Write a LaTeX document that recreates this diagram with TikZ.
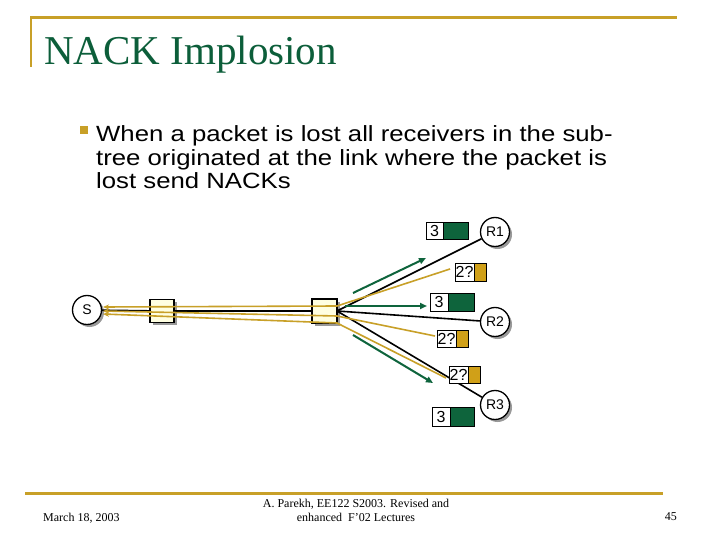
\documentclass[tikz,border=0pt]{standalone}
\usepackage{fontspec}
\setmainfont{Liberation Serif}
\setsansfont{Liberation Sans}
\newfontfamily\bodyfont[FakeStretch=1.17]{Liberation Sans}
\usetikzlibrary{arrows.meta,shadows}
\definecolor{gold}{RGB}{200,160,40}
\definecolor{pgold}{RGB}{208,160,24}
\definecolor{dgreen}{RGB}{14,100,60}
\definecolor{tgreen}{RGB}{12,94,58}
\definecolor{boxfill}{RGB}{255,255,225}
\tikzset{
  shad/.style={drop shadow={shadow xshift=2.5pt,shadow yshift=-2.5pt,fill=gray!80,opacity=1}},
  host/.style={circle,draw,line width=1.3pt,fill=white,minimum size=29pt,inner sep=0pt,font=\sffamily\fontsize{14}{14}\selectfont,shad},
  rbox/.style={rectangle,draw,line width=1.2pt,fill=boxfill,minimum width=24pt,minimum height=23pt,inner sep=0pt,shad},
  num/.style={rectangle,draw,line width=0.8pt,fill=white,inner sep=0pt,font=\sffamily\fontsize{16}{16}\selectfont},
  col/.style={rectangle,draw,line width=0.8pt,inner sep=0pt},
  blk/.style={draw=black,line width=1.6pt},
  gl/.style={draw=gold,line width=1.6pt},
  garr/.style={draw=dgreen,line width=2pt,-{Triangle[length=7pt,width=6pt]}},
  bodyline/.style={anchor=base west,inner sep=0pt,font=\bodyfont\fontsize{22}{24}\selectfont},
  foot/.style={inner sep=0pt,font=\fontsize{12}{12}\selectfont},
}
\begin{document}
\begin{tikzpicture}[x=1pt,y=-1pt]
\useasboundingbox[fill=white] (0,0) rectangle (720,540);
% header rules
\draw[gold,line width=3pt] (30,18) -- (677,18);
\draw[gold,line width=2.5pt] (31,18) -- (31,67);
\node[anchor=base west,inner sep=0pt,text=tgreen,font=\fontsize{41}{41}\selectfont] (title) at (44,65) {NACK Implosion};
% bullet
\node[fill=gold,minimum size=7.5pt,inner sep=0pt] (bul) at (84,130) {};
\node[bodyline] (l1) at (96,142) {When a packet is lost all receivers in the sub-};
\node[bodyline] (l2) at (96,165.5) {tree originated at the link where the packet is};
\node[bodyline] (l3) at (96,189) {lost send NACKs};
% footer
\draw[gold,line width=3pt] (25,493) -- (663,493);
\node[foot,anchor=base west] (date) at (43,521) {March 18, 2003};
\node[foot,anchor=base] (auth1) at (356,507) {A. Parekh, EE122 S2003. Revised and};
\node[foot,anchor=base] (auth2) at (356,521) {enhanced~ F'02 Lectures};
\node[foot,anchor=base east] (pg) at (677,520) {45};
% coordinates for gold paths
\coordinate (gs1) at (103,307);
\coordinate (gs2) at (103,311);
\coordinate (gs3) at (103,314);
\coordinate (gm1) at (337,306);
\coordinate (gm2) at (337,316);
\coordinate (gm3) at (337,323);
\coordinate (ge1) at (450,269);
\coordinate (ge2) at (435,336);
\coordinate (ge3) at (446,378);
% black links
\coordinate (hub) at (337,311);
\node[host] (S) at (87,310) {S};
\node[rbox] (b1) at (162,311) {};
\node[rbox,minimum width=25pt,minimum height=24pt] (b2) at (324.5,311) {};
\node[host] (R1) at (495,232) {R1};
\node[host] (R2) at (495,322) {R2};
\node[host] (R3) at (495,405) {R3};
\draw[blk] (S) -- (b1) -- (b2);
\draw[blk] (hub) -- (R1);
\draw[blk] (hub) -- (R2);
\draw[blk] (hub) -- (R3);
% gold NACK paths
\draw[gl,-{Stealth[length=6pt,width=5pt]}] (ge1) -- (gm1) -- (gs1);
\draw[gl,-{Stealth[length=6pt,width=5pt]}] (ge2) -- (gm2) -- (gs2);
\draw[gl,-{Stealth[length=6pt,width=5pt]}] (ge3) -- (gm3) -- (gs3);
% green arrows
\coordinate (a1s) at (353,293); \coordinate (a1e) at (426,258);
\coordinate (a2s) at (345,306); \coordinate (a2e) at (427,306);
\coordinate (a3s) at (353,335); \coordinate (a3e) at (433,383);
\draw[garr] (a1s) -- (a1e);
\draw[garr] (a2s) -- (a2e);
\draw[garr] (a3s) -- (a3e);
% packets
\node[num,minimum width=17pt,minimum height=17pt] (p1n) at (434.5,230.5) {3};
\node[col,fill=dgreen,minimum width=25pt,minimum height=17pt] (p1c) at (455.5,230.5) {};
\node[num,minimum width=19pt,minimum height=18pt] (q1n) at (464.5,272) {2?};
\node[col,fill=pgold,minimum width=12pt,minimum height=18pt] (q1c) at (480,272) {};
\node[num,minimum width=18pt,minimum height=18pt] (p2n) at (439,302) {3};
\node[col,fill=dgreen,minimum width=26pt,minimum height=18pt] (p2c) at (461,302) {};
\node[num,minimum width=19pt,minimum height=17pt] (q2n) at (446.5,338.5) {2?};
\node[col,fill=pgold,minimum width=12pt,minimum height=17pt] (q2c) at (462,338.5) {};
\node[num,minimum width=19pt,minimum height=17pt] (q3n) at (458.5,374.5) {2?};
\node[col,fill=pgold,minimum width=12pt,minimum height=17pt] (q3c) at (474,374.5) {};
\node[num,minimum width=18pt,minimum height=19pt] (p3n) at (441,416.5) {3};
\node[col,fill=dgreen,minimum width=24pt,minimum height=19pt] (p3c) at (462,416.5) {};
\end{tikzpicture}
\end{document}
